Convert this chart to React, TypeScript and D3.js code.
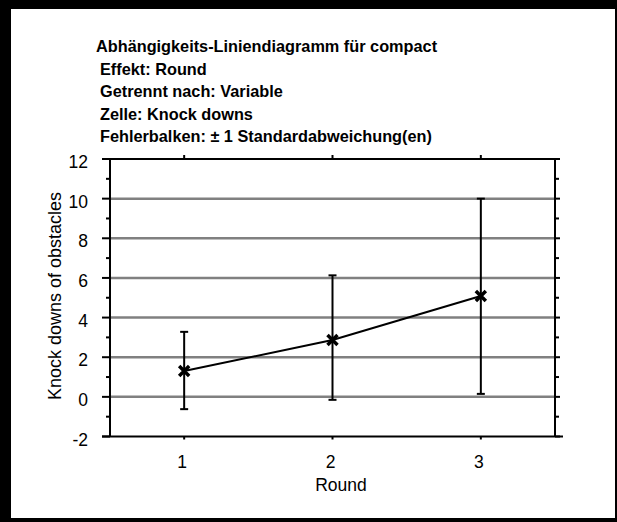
import React from "react";
import * as d3 from "d3";

const W = 617;
const H = 522;
const PLOT = { left: 110, right: 555, top: 159, bottom: 436.5 };

const titleLines = [
  "Abhängigkeits-Liniendiagramm für compact",
  "Effekt: Round",
  "Getrennt nach: Variable",
  "Zelle: Knock downs",
  "Fehlerbalken: ± 1 Standardabweichung(en)",
];

const rounds = [1, 2, 3];
const means = [1.3, 2.87, 5.09];
const upper = [3.28, 6.13, 10.0];
const lower = [-0.62, -0.15, 0.15];

const yTicks = [-2, 0, 2, 4, 6, 8, 10, 12];
const yMinor = [-1, 1, 3, 5, 7, 9, 11];

const App = () => {
  const x = d3.scaleLinear().domain([0.5, 3.5]).range([PLOT.left, PLOT.right]);
  const y = d3.scaleLinear().domain([-2, 12]).range([PLOT.bottom, PLOT.top]);

  const line = d3
    .line<number>()
    .x((_, i) => x(rounds[i]))
    .y((d) => y(d));

  const sans = "'Liberation Sans', Arial, sans-serif";

  return (
    <svg
      width={W}
      height={H}
      style={{ position: "absolute", left: 0, top: 0 }}
    >
      {/* frame */}
      <rect x={0} y={0} width={W} height={H} fill="#000" />
      <rect x={11} y={9} width={604} height={509} fill="#fff" />

      {/* title */}
      {titleLines.map((t, i) => (
        <text
          key={i}
          x={i === 0 ? 96 : 100}
          y={52 + i * 22.5}
          fontFamily={sans}
          fontWeight="bold"
          fontSize={16.3}
          fill="#000"
        >
          {t}
        </text>
      ))}

      {/* gridlines */}
      {yTicks
        .filter((t) => t > -2 && t < 12)
        .map((t) => (
          <line
            key={t}
            x1={PLOT.left}
            x2={PLOT.right}
            y1={y(t)}
            y2={y(t)}
            stroke="#808080"
            strokeWidth={2.5}
          />
        ))}

      {/* frame of plot */}
      <line x1={102} x2={560} y1={PLOT.top} y2={PLOT.top} stroke="#000" strokeWidth={2} />
      <line x1={102} x2={563} y1={PLOT.bottom} y2={PLOT.bottom} stroke="#000" strokeWidth={2} />
      <line x1={PLOT.left} x2={PLOT.left} y1={PLOT.top} y2={PLOT.bottom} stroke="#000" strokeWidth={2} />
      <line x1={PLOT.right} x2={PLOT.right} y1={PLOT.top} y2={PLOT.bottom} stroke="#000" strokeWidth={2} />

      {/* y ticks */}
      {yTicks.map((t) => (
        <g key={t}>
          <line x1={PLOT.left - 8} x2={PLOT.left} y1={y(t)} y2={y(t)} stroke="#000" strokeWidth={2} />
          <line x1={PLOT.right} x2={PLOT.right + 5} y1={y(t)} y2={y(t)} stroke="#000" strokeWidth={2} />
          <text
            x={88}
            y={y(t) + 9}
            textAnchor="end"
            fontFamily={sans}
            fontSize={17.5}
            fill="#000"
          >
            {t}
          </text>
        </g>
      ))}
      {yMinor.map((t) => (
        <g key={t}>
          <line x1={PLOT.left - 4} x2={PLOT.left} y1={y(t)} y2={y(t)} stroke="#000" strokeWidth={2} />
          <line x1={PLOT.right} x2={PLOT.right + 4} y1={y(t)} y2={y(t)} stroke="#000" strokeWidth={2} />
        </g>
      ))}

      {/* x ticks */}
      {rounds.map((r) => (
        <g key={r}>
          <line x1={x(r)} x2={x(r)} y1={PLOT.bottom} y2={PLOT.bottom + 3} stroke="#000" strokeWidth={2} />
          <line x1={x(r)} x2={x(r)} y1={PLOT.top} y2={PLOT.top - 4} stroke="#000" strokeWidth={2} />
          <text
            x={x(r) - 2}
            y={468}
            textAnchor="middle"
            fontFamily={sans}
            fontSize={17.5}
            fill="#000"
          >
            {r}
          </text>
        </g>
      ))}

      {/* axis titles */}
      <text
        x={341}
        y={491}
        textAnchor="middle"
        fontFamily={sans}
        fontSize={17.5}
        fill="#000"
      >
        Round
      </text>
      <text
        transform={`translate(55,296) rotate(-90)`}
        textAnchor="middle"
        dominantBaseline="central"
        fontFamily={sans}
        fontSize={18}
        fill="#000"
      >
        Knock downs of obstacles
      </text>

      {/* error bars */}
      {rounds.map((r, i) => (
        <g key={r} stroke="#000" strokeWidth={2}>
          <line x1={x(r)} x2={x(r)} y1={y(upper[i])} y2={y(lower[i])} />
          <line x1={x(r) - 4} x2={x(r) + 4} y1={y(upper[i])} y2={y(upper[i])} />
          <line x1={x(r) - 4} x2={x(r) + 4} y1={y(lower[i])} y2={y(lower[i])} />
        </g>
      ))}

      {/* mean line */}
      <path d={line(means) ?? ""} fill="none" stroke="#000" strokeWidth={2} />

      {/* markers */}
      {rounds.map((r, i) => {
        const cx = x(r);
        const cy = y(means[i]);
        const s = 5;
        return (
          <path
            key={r}
            d={`M${cx - s},${cy - s}L${cx + s},${cy + s}M${cx - s},${cy + s}L${cx + s},${cy - s}`}
            stroke="#000"
            strokeWidth={3.5}
          />
        );
      })}
    </svg>
  );
};

export default App;
